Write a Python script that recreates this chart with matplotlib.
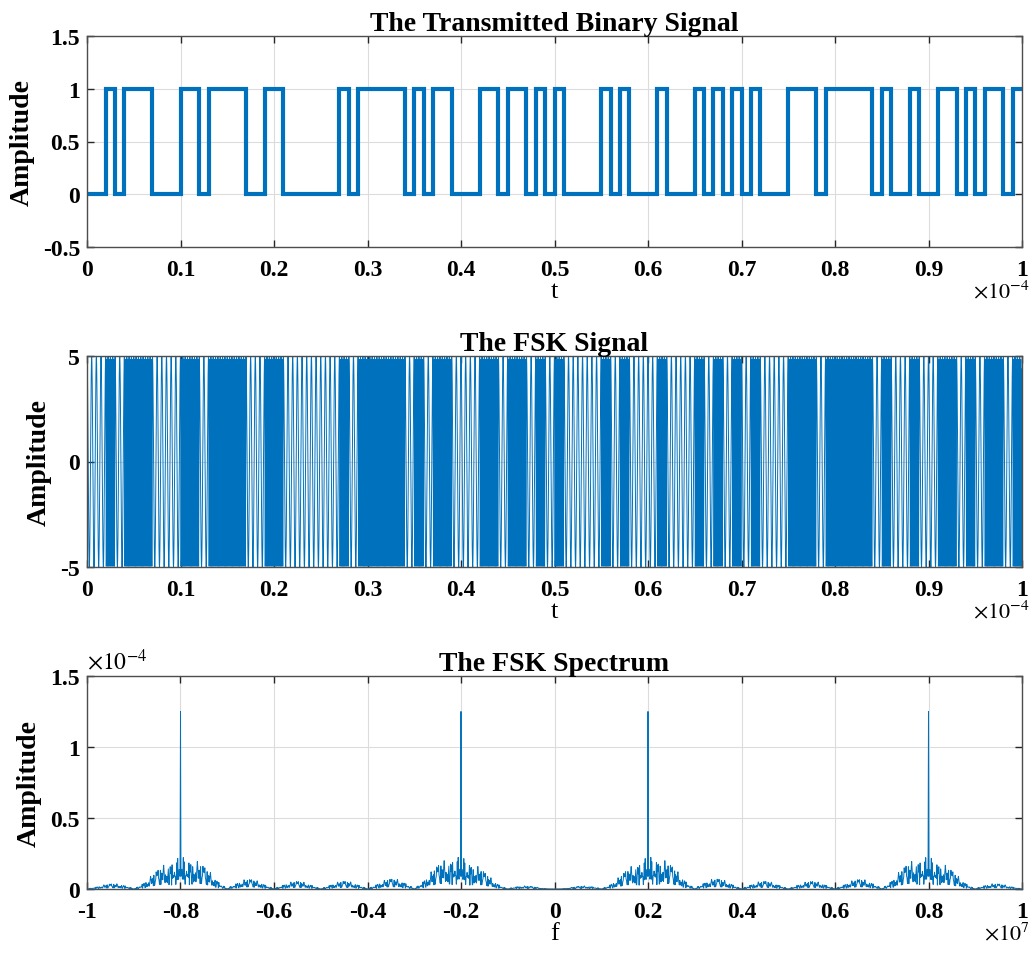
import numpy as np
import matplotlib
matplotlib.use('Agg')
import matplotlib.pyplot as plt
from matplotlib.ticker import FuncFormatter, MultipleLocator

# ---- data ----
bits = [0, 0, 1, 0, 1, 1, 1, 0, 0, 0,
        1, 1, 0, 1, 1, 1, 1, 0, 0, 1,
        1, 0, 0, 0, 0, 0, 0, 1, 0, 1,
        1, 1, 1, 1, 0, 1, 0, 1, 1, 0,
        0, 0, 1, 1, 0, 1, 1, 0, 1, 0,
        1, 0, 0, 0, 0, 1, 0, 1, 0, 0,
        0, 1, 0, 0, 0, 1, 0, 1, 0, 1,
        0, 1, 0, 0, 0, 1, 1, 1, 0, 1,
        1, 1, 1, 1, 0, 1, 0, 0, 1, 0,
        0, 1, 1, 0, 1, 0, 1, 1, 0, 1]
bit_period = 1e-6
amplitude = 5.0
f_one = 8e6
f_zero = 2e6
fs = 1e8

titles = ['The Transmitted Binary Signal', 'The FSK Signal', 'The FSK Spectrum']
xt_time = [0, 0.1, 0.2, 0.3, 0.4, 0.5, 0.6, 0.7, 0.8, 0.9, 1.0]
xt_freq = [-1, -0.8, -0.6, -0.4, -0.2, 0, 0.2, 0.4, 0.6, 0.8, 1.0]

# ---- derived signals ----
n_bits = len(bits)
spb = int(round(bit_period * fs))
t = np.arange(n_bits * spb) / fs
bit_samples = np.repeat(bits, spb)
carrier = np.where(bit_samples == 1, f_one, f_zero)
fsk = amplitude * np.cos(2 * np.pi * carrier * t)
N = len(fsk)
spec = np.abs(np.fft.fftshift(np.fft.fft(fsk))) / fs
freqs = np.fft.fftshift(np.fft.fftfreq(N, 1 / fs))
edges = np.arange(n_bits + 1) * bit_period

# ---- style ----
plt.rcParams['font.family'] = ['Liberation Serif', 'DejaVu Serif']
plt.rcParams['mathtext.fontset'] = 'stix'
BLUE = '#0072BD'
W, H = 1032, 962
fig = plt.figure(figsize=(W / 100, H / 100), dpi=100)


def px_axes(x0, y0, x1, y1):
    return fig.add_axes([x0 / W, 1 - y1 / H, (x1 - x0) / W, (y1 - y0) / H])


def style(ax):
    ax.grid(True, color='#dcdcdc', lw=0.8)
    ax.set_axisbelow(True)
    for s in ax.spines.values():
        s.set_color('#4d4d4d')
        s.set_linewidth(1.0)
    ax.tick_params(direction='in', top=True, right=True, length=5,
                   width=1, color='#262626', labelsize=17)
    ax.tick_params(axis='x', pad=9)
    ax.tick_params(axis='y', pad=5)
    for lab in ax.get_xticklabels() + ax.get_yticklabels():
        lab.set_fontweight('bold')


def gfmt(scale):
    return FuncFormatter(lambda v, p: '%g' % round(v / scale, 6))


axes = [px_axes(87, 37, 1022, 248), px_axes(87, 357, 1022, 568), px_axes(87, 677, 1022, 890)]

# top
ax = axes[0]
ax.stairs(bits, edges, baseline=None, color=BLUE, lw=3)
ax.set_xlim(0, 1e-4)
ax.set_ylim(-0.5, 1.5)
ax.set_xticks([v * 1e-4 for v in xt_time])
ax.xaxis.set_major_formatter(gfmt(1e-4))
ax.yaxis.set_major_locator(MultipleLocator(0.5))
ax.yaxis.set_major_formatter(FuncFormatter(lambda v, p: '%g' % v))

# middle
ax = axes[1]
ax.plot(t, fsk, color=BLUE, lw=0.7)
ax.set_xlim(0, 1e-4)
ax.set_ylim(-5, 5)
ax.set_xticks([v * 1e-4 for v in xt_time])
ax.xaxis.set_major_formatter(gfmt(1e-4))
ax.set_yticks([-5, 0, 5])
ax.yaxis.set_major_formatter(FuncFormatter(lambda v, p: '%g' % v))

# bottom
ax = axes[2]
ax.plot(freqs, spec, color=BLUE, lw=0.7)
ax.set_xlim(-1e7, 1e7)
ax.set_ylim(0, 1.5e-4)
ax.set_xticks([v * 1e7 for v in xt_freq])
ax.xaxis.set_major_formatter(gfmt(1e7))
ax.set_yticks([0, 0.5e-4, 1e-4, 1.5e-4])
ax.yaxis.set_major_formatter(gfmt(1e-4))

for ax, ttl, xl in zip(axes, titles, ['t', 't', 'f']):
    style(ax)
    ax.set_title(ttl, fontsize=20, fontweight='bold', pad=4)
    ax.set_ylabel('Amplitude', fontsize=20, fontweight='bold', labelpad=6)
    ax.set_xlabel(xl, fontsize=19, labelpad=0)

for ax, txt in zip(axes, [r'$\times10^{-4}$', r'$\times10^{-4}$', r'$\times10^{7}$']):
    ax.text(1.008, -0.155, txt, transform=ax.transAxes,
            ha='right', va='top', fontsize=16)
axes[2].text(0.0, 1.01, r'$\times10^{-4}$', transform=axes[2].transAxes,
             ha='left', va='bottom', fontsize=17)

fig.savefig('out.png', dpi=100)
